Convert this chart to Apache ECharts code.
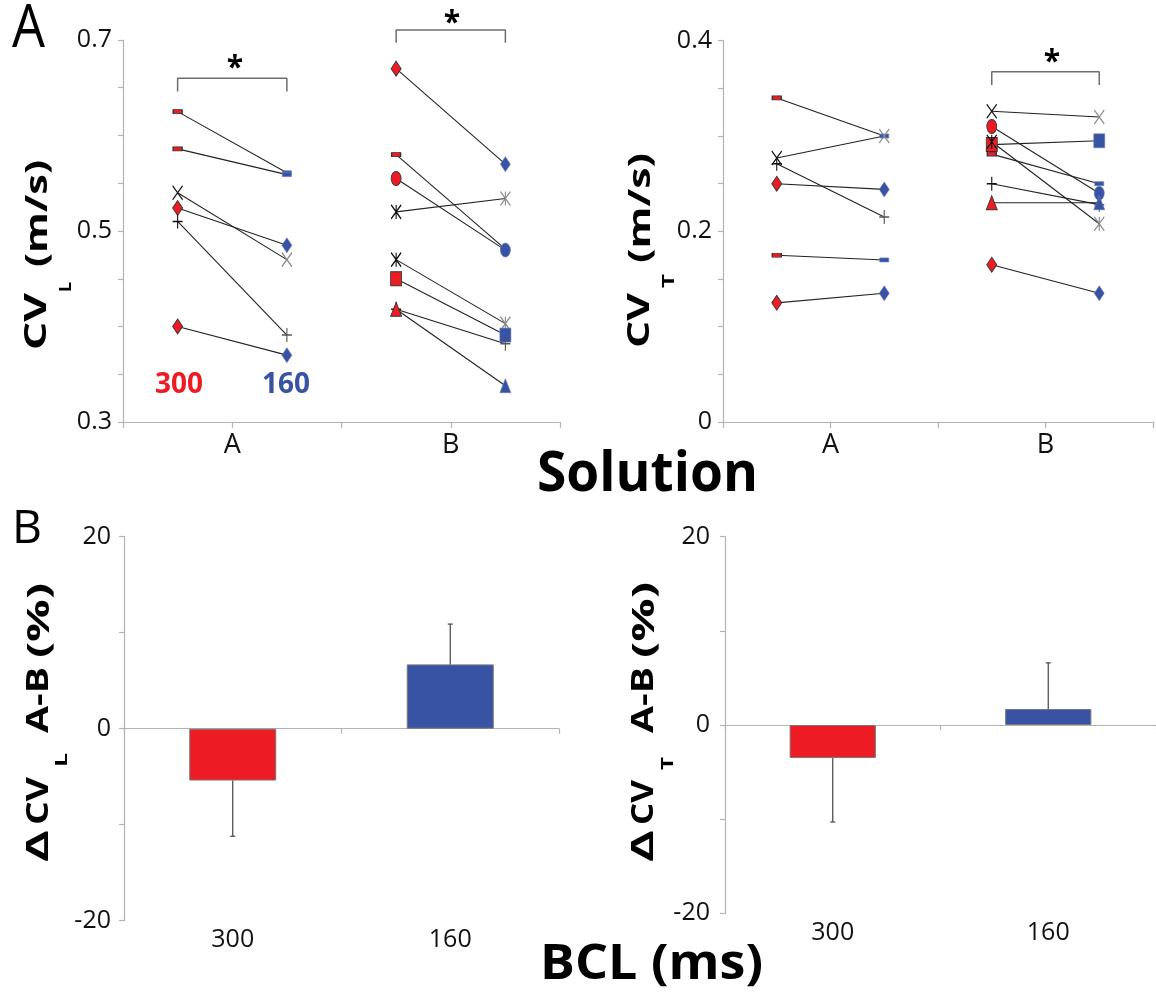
<!DOCTYPE html>
<html>
<head>
<meta charset="utf-8">
<script src="https://cdn.jsdelivr.net/npm/echarts@6/dist/echarts.min.js"></script>
<style>
  html, body { margin: 0; padding: 0; background: #fff; }
  #chart { width: 1156px; height: 997px; }
</style>
</head>
<body>
<div id="chart"></div>
<script>
// Conduction velocity (m/s) of each preparation, paired BCL 300 ms -> BCL 160 ms
const cvL_A_300 = [0.625, 0.586, 0.540, 0.524, 0.510, 0.400];
const cvL_A_160 = [0.561, 0.559, 0.470, 0.485, 0.391, 0.370];
const cvL_A_marks = ['dash', 'dash', 'cross', 'diamond', 'plus', 'diamond'];

const cvL_B_300 = [0.670, 0.580, 0.555, 0.520, 0.470, 0.450, 0.418, 0.418];
const cvL_B_160 = [0.570, 0.481, 0.480, 0.534, 0.403, 0.391, 0.382, 0.338];
const cvL_B_marks = ['diamond', 'dash', 'circle', 'star', 'star', 'square', 'plus', 'triangle'];

const cvT_A_300 = [0.340, 0.277, 0.271, 0.250, 0.175, 0.125];
const cvT_A_160 = [0.300, 0.300, 0.215, 0.244, 0.170, 0.135];
const cvT_A_marks = ['dash', 'cross', 'plus', 'diamond', 'dash', 'diamond'];

const cvT_B_300 = [0.326, 0.310, 0.291, 0.294, 0.281, 0.250, 0.230, 0.165];
const cvT_B_160 = [0.320, 0.240, 0.295, 0.208, 0.250, 0.228, 0.230, 0.135];
const cvT_B_marks = ['cross', 'circle', 'square', 'star', 'dash', 'plus', 'triangle', 'diamond'];

const solutionLabels = ['A', 'B'];

// Percent difference A-B (mean and error) per BCL
const bclLabels = ['300', '160'];
const dCvL_mean = [-5.4, 6.7];
const dCvL_err = [5.8, 4.2];
const dCvT_mean = [-3.5, 1.7];
const dCvT_err = [6.8, 4.9];

const RED = '#ED1C24';
const BLUE = '#3953A4';
const AXIS = '#b3b3b3';
const FONT = '"Open Sans", sans-serif';

const MARKS = {
  diamond:  { symbol: 'diamond', size: [10, 15] },
  dash:     { symbol: 'rect', size: [9, 4] },
  circle:   { symbol: 'circle', size: [10, 14] },
  square:   { symbol: 'rect', size: [11, 14] },
  triangle: { symbol: 'triangle', size: [11, 14] },
  cross:    { symbol: 'path://M0,0L10,14M10,0L0,14', size: [10, 14], stroke: true },
  plus:     { symbol: 'path://M5,0L5,14M0,7L10,7', size: [10, 14], stroke: true },
  star:     { symbol: 'path://M0,0L10,14M10,0L0,14M5,0L5,14', size: [10, 14], stroke: true }
};

function markerItem(kind, x, v, late) {
  const m = MARKS[kind];
  let style;
  if (m.stroke) {
    const c = late ? (kind === 'plus' ? '#555' : '#8c8c8c') : '#111';
    style = { color: c, borderColor: c, borderWidth: 1.3 };
  } else if (late) {
    style = { color: BLUE, borderColor: '#6b7cb8', borderWidth: 0.6 };
  } else {
    style = { color: RED, borderColor: '#333', borderWidth: 0.9 };
  }
  return { value: [x, v], symbol: m.symbol, symbolSize: m.size, itemStyle: style };
}

// One line per preparation, from its 300 ms value to its 160 ms value
function pairedSeries(gridIdx, groupIdx, v300, v160, marks) {
  const x0 = groupIdx * 2 + 0.5;
  return v300.map((v, i) => ({
    type: 'line',
    xAxisIndex: gridIdx,
    yAxisIndex: gridIdx,
    silent: true,
    animation: false,
    showSymbol: true,
    lineStyle: { color: '#222', width: 1.1 },
    z: 3,
    data: [markerItem(marks[i], x0, v, false), markerItem(marks[i], x0 + 1, v160[i], true)]
  }));
}

function bracket(gridIdx, groupIdx, yLow, yHigh) {
  const x0 = groupIdx * 2 + 0.5;
  return {
    type: 'line', xAxisIndex: gridIdx, yAxisIndex: gridIdx, silent: true, animation: false,
    symbol: 'none', clip: false, z: 2,
    lineStyle: { color: '#6d6d6d', width: 1.5 },
    data: [[x0, yLow], [x0, yHigh], [x0 + 1, yHigh], [x0 + 1, yLow]]
  };
}

function barSeries(xIdx, yIdx, means) {
  return {
    type: 'bar', xAxisIndex: xIdx, yAxisIndex: yIdx, silent: true, animation: false,
    barWidth: '40%',
    data: means.map((v, i) => ({
      value: v,
      itemStyle: { color: i === 0 ? RED : BLUE, borderColor: '#777', borderWidth: 1 }
    }))
  };
}

function errorSeries(xIdx, yIdx, means, errs) {
  return {
    type: 'custom', xAxisIndex: xIdx, yAxisIndex: yIdx, silent: true, animation: false,
    z: 5,
    data: means.map((m, i) => [i, m, errs[i]]),
    encode: { x: 0, y: 1 },
    renderItem: function (params, api) {
      const i = api.value(0), m = api.value(1), e = api.value(2);
      const p0 = api.coord([i, m]);
      const p1 = api.coord([i, m + Math.sign(m) * e]);
      const st = { stroke: '#444', lineWidth: 1.2 };
      return {
        type: 'group',
        children: [
          { type: 'line', shape: { x1: p0[0], y1: p0[1], x2: p1[0], y2: p1[1] }, style: st },
          { type: 'line', shape: { x1: p1[0] - 2.5, y1: p1[1], x2: p1[0] + 2.5, y2: p1[1] }, style: st }
        ]
      };
    }
  };
}

const labelStyle = { color: '#111', fontSize: 25, fontFamily: FONT };

function solutionXAxis(gridIdx) {
  return {
    gridIndex: gridIdx, type: 'value', min: 0, max: 4, interval: 1,
    axisLine: { show: true, onZero: false, lineStyle: { color: AXIS, width: 1.2 } },
    axisTick: { show: true, length: 6, lineStyle: { color: AXIS, width: 1.2 } },
    splitLine: { show: false },
    axisLabel: {
      ...labelStyle, fontSize: 27, margin: 10,
      formatter: v => (v === 1 ? solutionLabels[0] : v === 3 ? solutionLabels[1] : '')
    }
  };
}

function cvYAxis(gridIdx, min, max, keep) {
  return {
    gridIndex: gridIdx, type: 'value', min: min, max: max, interval: 0.05,
    axisLine: { show: true, onZero: false, lineStyle: { color: AXIS, width: 1.2 } },
    axisTick: { show: true, length: 5, lineStyle: { color: AXIS, width: 1.2 } },
    splitLine: { show: false },
    axisLabel: {
      ...labelStyle, margin: 11, showMinLabel: true, showMaxLabel: true,
      formatter: v => {
        const k = Math.round(v * 100);
        if (k % 20 !== keep) return '';
        return k === 0 ? '0' : (k / 100).toFixed(1);
      }
    }
  };
}

function bclXAxes(gridIdx) {
  return [
    {
      gridIndex: gridIdx, type: 'category', data: bclLabels,
      axisLine: { show: true, onZero: true, lineStyle: { color: AXIS, width: 1.2 } },
      axisTick: { show: true, length: 5, lineStyle: { color: AXIS, width: 1.2 } },
      axisLabel: { show: false }
    },
    {
      gridIndex: gridIdx, type: 'category', data: bclLabels, position: 'bottom',
      axisLine: { show: false, onZero: false },
      axisTick: { show: false },
      axisLabel: { ...labelStyle, margin: 7 }
    }
  ];
}

function pctYAxis(gridIdx, margin) {
  return {
    gridIndex: gridIdx, type: 'value', min: -20, max: 20, interval: 10,
    axisLine: { show: true, onZero: false, lineStyle: { color: AXIS, width: 1.2 } },
    axisTick: { show: true, length: 5, lineStyle: { color: AXIS, width: 1.2 } },
    splitLine: { show: false },
    axisLabel: {
      ...labelStyle, margin: margin, showMinLabel: true, showMaxLabel: true,
      formatter: v => (v % 20 === 0 ? String(v) : '')
    }
  };
}

// Text helpers: stretch a run of text to a given length along its reading direction
const measureCtx = document.createElement('canvas').getContext('2d');
function textWidth(str, size, weight) {
  measureCtx.font = `${weight} ${size}px "Open Sans"`;
  return measureCtx.measureText(str).width;
}
function vtext(str, cx, yStart, len, size, weight) {
  return {
    type: 'text', x: cx, y: yStart, rotation: Math.PI / 2, silent: true,
    scaleX: len / textWidth(str, size, weight),
    style: { text: str, fontSize: size, fontWeight: weight, fontFamily: FONT, fill: '#000', align: 'left', verticalAlign: 'middle' }
  };
}
function htext(str, cx, cy, len, size, weight, color) {
  return {
    type: 'text', x: cx, y: cy, silent: true,
    scaleX: len ? len / textWidth(str, size, weight) : 1,
    style: { text: str, fontSize: size, fontWeight: weight, fontFamily: FONT, fill: color || '#000', align: 'center', verticalAlign: 'middle' }
  };
}

const graphics = [
  // panel letters
  htext('A', 28.5, 30, 33, 60, 'normal'),
  htext('B', 27, 530, 30, 45, 'normal'),
  // shared axis titles
  htext('Solution', 647.5, 475, 221, 56, 'bold'),
  htext('BCL (ms)', 651.5, 965.5, 223, 49, 'bold'),
  // CV_L (m/s)
  vtext('CV', 37.5, 350, 57, 30, 'bold'),
  vtext('L', 66, 292, 10, 16, 'bold'),
  vtext('(m/s)', 38.5, 267, 107, 30, 'bold'),
  // CV_T (m/s)
  vtext('CV', 640, 348, 55, 30, 'bold'),
  vtext('T', 669, 288, 14, 16, 'bold'),
  vtext('(m/s)', 641, 263, 110, 30, 'bold'),
  // Δ CV_L  A-B (%)
  vtext('Δ', 39, 862, 32, 30, 'bold'),
  vtext('CV', 39, 825, 48, 30, 'bold'),
  vtext('L', 62, 767, 14, 16, 'bold'),
  vtext('A-B', 39, 733, 66, 30, 'bold'),
  vtext('(%)', 40, 658, 75, 30, 'bold'),
  // Δ CV_T  A-B (%)
  vtext('Δ', 644, 862, 32, 30, 'bold'),
  vtext('CV', 644, 825, 45, 30, 'bold'),
  vtext('T', 668, 770, 13, 16, 'bold'),
  vtext('A-B', 644, 733, 66, 30, 'bold'),
  vtext('(%)', 645, 658, 76, 30, 'bold'),
  // BCL key
  htext('300', 179, 385, 0, 28, 'bold', RED),
  htext('160', 286, 385, 0, 28, 'bold', BLUE),
  // significance marks
  htext('*', 235, 68, 0, 30, 'bold'),
  htext('*', 452, 23, 0, 30, 'bold'),
  htext('*', 1052, 62.5, 0, 30, 'bold')
];

const option = {
  backgroundColor: '#fff',
  animation: false,
  grid: [
    { left: 123, top: 40, width: 437, height: 382 },
    { left: 723, top: 40.7, width: 439, height: 381.3 },
    { left: 124, top: 536.7, width: 435, height: 384 },
    { left: 725, top: 536.7, width: 437, height: 376.6 }
  ],
  xAxis: [solutionXAxis(0), solutionXAxis(1), ...bclXAxes(2), ...bclXAxes(3)],
  yAxis: [cvYAxis(0, 0.3, 0.7, 10), cvYAxis(1, 0, 0.4, 0), pctYAxis(2, 13), pctYAxis(3, 15)],
  series: [
    ...pairedSeries(0, 0, cvL_A_300, cvL_A_160, cvL_A_marks),
    ...pairedSeries(0, 1, cvL_B_300, cvL_B_160, cvL_B_marks),
    ...pairedSeries(1, 0, cvT_A_300, cvT_A_160, cvT_A_marks),
    ...pairedSeries(1, 1, cvT_B_300, cvT_B_160, cvT_B_marks),
    bracket(0, 0, 0.646, 0.660),
    bracket(0, 1, 0.697, 0.7105),
    bracket(1, 1, 0.3535, 0.3675),
    // bottom panels: bars on the zero-crossing category axes (xAxis 2 and 4)
    barSeries(2, 2, dCvL_mean),
    errorSeries(2, 2, dCvL_mean, dCvL_err),
    barSeries(4, 3, dCvT_mean),
    errorSeries(4, 3, dCvT_mean, dCvT_err)
  ],
  graphic: { elements: graphics }
};

const chart = echarts.init(document.getElementById('chart'), null, { renderer: 'canvas' });
chart.setOption(option);
</script>
</body>
</html>
